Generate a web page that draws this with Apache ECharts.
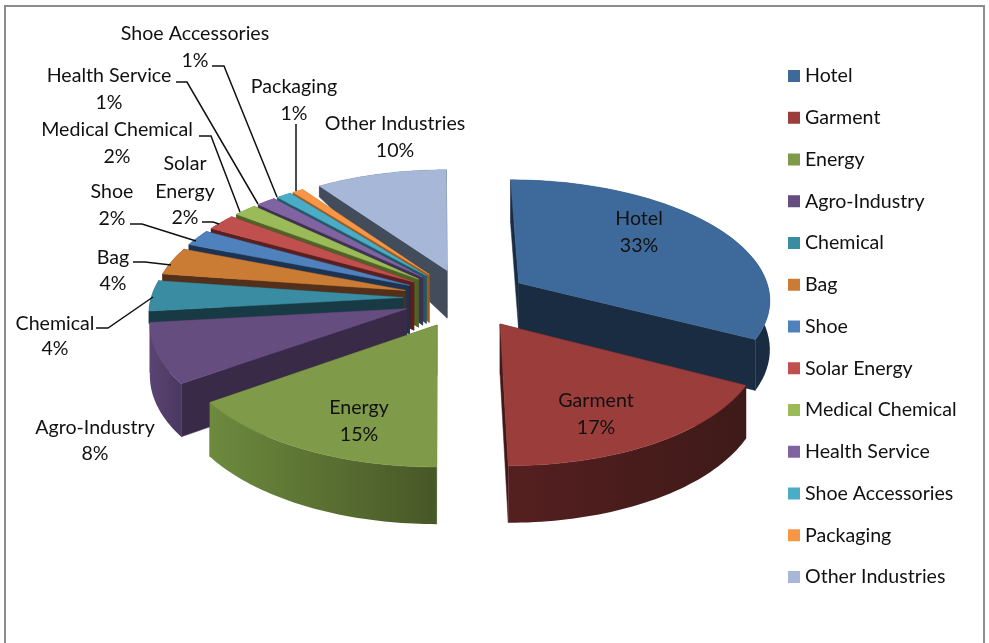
<!DOCTYPE html>
<html>
<head>
<meta charset="utf-8">
<style>html,body{margin:0;padding:0;background:#fff;overflow:hidden}#c{width:989px;height:643px}</style>
<script src="https://cdn.jsdelivr.net/npm/echarts@6/dist/echarts.min.js"></script>
</head>
<body>
<div id="c"></div>
<script>
const categories = ['Hotel','Garment','Energy','Agro-Industry','Chemical','Bag','Shoe','Solar Energy','Medical Chemical','Health Service','Shoe Accessories','Packaging','Other Industries'];
const shares = [32.7,17.3,15.2,8.0,4.1,3.7,2.2,2.2,1.7,1.4,1.1,0.8,9.6];

const topColors  = ['#3E6A9B','#9B3E3B','#7F9A48','#664D80','#3A8CA3','#CA7C35','#4F81BD','#C0504D','#9BBB59','#8064A2','#4BACC6','#F79646','#A7B7D8'];
const faceColors = ['#1A2C42','#3F1A18','#4A5A29','#392B48','#173A44','#54301A','#1C3352','#5A1F1E','#4F6228','#3F3151','#205867','#A05A1E','#434C5B'];
const rimLeft    = ['#1A2C42','#551F20','#6D8A3E','#5B4474','#173A44','#54301A','#1C3352','#5A1F1E','#4F6228','#3F3151','#205867','#A05A1E','#434C5B'];
const rimRight   = ['#1A2C42','#3E1A18','#475727','#4A3860','#173A44','#54301A','#1C3352','#5A1F1E','#4F6228','#3F3151','#205867','#A05A1E','#434C5B'];
const paintOrder = [12,11,10,9,8,7,6,5,4,3,2,0,1];
const outerThick = [1,1,1,1,0.25,0.2,0.2,0.2,0.2,0.2,0.2,0.2,0.25];

const fontPx = 19.6;
const font = fontPx+'px Lato, sans-serif';
const labelRows = [
  {c:0, x:639, ys:[219,246]},
  {c:1, x:596, ys:[401,428]},
  {c:2, x:359, ys:[408,435]},
  {c:3, x:95,  ys:[428,454]},
  {c:4, x:55,  ys:[324,349]},
  {c:5, x:113, ys:[258,284]},
  {c:6, x:112, ys:[192,219]},
  {c:7, x:185, ys:[164,192,218], lines:['Solar','Energy']},
  {c:8, x:117, ys:[130,157]},
  {c:9, x:109, ys:[76,103]},
  {c:10,x:195, ys:[34,61]},
  {c:11,x:294, ys:[87,114]},
  {c:12,x:395, ys:[124,151]}
];
const leaders = [
  [[212,66],[224,66],[277,197]],
  [[176,82],[187,82],[258,204]],
  [[199,136],[211,136],[240,212]],
  [[296,124],[296,191]],
  [[202,222],[213,222],[219,224]],
  [[130,224],[142,224],[196,241]],
  [[133,262],[145,262],[171,265]],
  [[96,328],[108,328],[153,297]]
];

// projection of the tilted pie plane
const cx = 466, cy = 298, vx = 440, scaleX = 252, scaleY = 118.5, persp = 0.117, explode = 0.25, thick = 49;
function k(Y){ return 1/(1-persp*Y); }
function proj(X,Y){ return [vx+(cx+scaleX*X-vx)*k(Y), cy+scaleY*Y*k(Y)]; }
function low(X,Y,f){ const p=proj(X,Y); return [p[0],p[1]+thick*k(Y)*f]; }

const total = shares.reduce((a,b)=>a+b,0);
let acc = 0;
const spans = shares.map(v=>{const s=[acc,acc+v];acc+=v;return s;});

function renderSlice(i){
  return function(params, api){
    const a0 = api.value(0)/total*2*Math.PI, a1 = api.value(1)/total*2*Math.PI, mid=(a0+a1)/2;
    const ox = explode*Math.sin(mid), oy = -explode*Math.cos(mid);
    const world = [];
    const steps = 48;
    for(let s=0;s<=steps;s++){
      const a=a0+(a1-a0)*s/steps;
      world.push([ox+Math.sin(a),oy-Math.cos(a)]);
    }
    const topArc=world.map(p=>proj(p[0],p[1]));
    const lowArc=world.map(p=>low(p[0],p[1],outerThick[i]));
    const A=proj(ox,oy), B=low(ox,oy,1);
    const first=topArc[0], last=topArc[steps], lowFirst=lowArc[0], lowLast=lowArc[steps];
    const grad=new echarts.graphic.LinearGradient(0,0,1,0,[{offset:0,color:rimLeft[i]},{offset:1,color:rimRight[i]}]);
    const poly=(pts,fill,stroke)=>({type:'polygon',shape:{points:pts},style:{fill:fill,stroke:stroke||fill,lineWidth:0.5}});
    return {type:'group',children:[
      poly([A,first,lowFirst,B],faceColors[i]),
      poly([A,last,lowLast,B],faceColors[i]),
      poly(topArc.concat(lowArc.slice().reverse()),grad,'rgba(0,0,0,0)'),
      poly([A].concat(topArc),topColors[i])
    ]};
  };
}

function renderLabels(){
  const kids=[];
  leaders.forEach(pts=>kids.push({type:'polyline',shape:{points:pts},style:{stroke:'#111',lineWidth:1.5,fill:null}}));
  labelRows.forEach(r=>{
    const lines=(r.lines||[categories[r.c]]).concat([Math.round(shares[r.c])+'%']);
    lines.forEach((t,j)=>kids.push({type:'text',style:{text:t,x:r.x,y:r.ys[j],fill:'#111',font:font,align:'center',verticalAlign:'middle'}}));
  });
  return {type:'group',children:kids};
}

const series = paintOrder.map((i,n)=>({
  type:'custom',name:categories[i],coordinateSystem:'none',z:n+2,silent:true,
  itemStyle:{color:topColors[i]},
  data:[spans[i]],renderItem:renderSlice(i)
}));
series.push({type:'custom',name:'labels',coordinateSystem:'none',z:40,silent:true,data:[[0]],renderItem:renderLabels});

const chart = echarts.init(document.getElementById('c'),null,{renderer:'canvas'});
chart.setOption({
  animation:false,
  backgroundColor:'#fff',
  legend:{
    data:categories,orient:'vertical',left:788,top:66,
    icon:'rect',itemWidth:12,itemHeight:12,itemGap:21.75,
    selectedMode:false,padding:0,
    textStyle:{color:'#111',fontFamily:'Lato, sans-serif',fontSize:fontPx,lineHeight:20}
  },
  graphic:[{type:'polyline',z:0,silent:true,shape:{points:[[5,660],[5,6],[984,6],[984,660]]},style:{stroke:'#8C8C8C',lineWidth:2,fill:null}}],
  series:series
});
</script>
</body>
</html>
